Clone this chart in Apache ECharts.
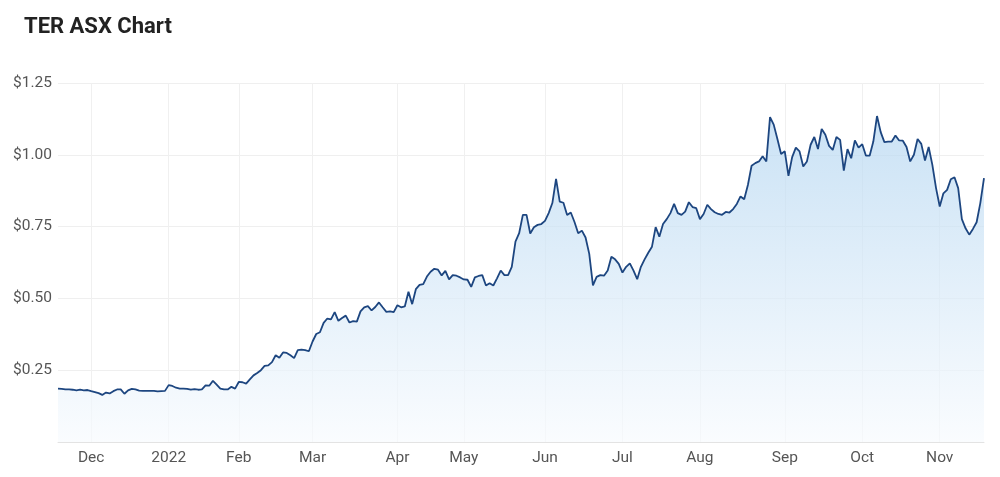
<!DOCTYPE html>
<html>
<head>
<meta charset="utf-8">
<script src="https://cdn.jsdelivr.net/npm/echarts@6/dist/echarts.min.js"></script>
<style>
  html, body { margin: 0; padding: 0; background: #ffffff; }
  #chart { width: 1000px; height: 477px; }
</style>
</head>
<body>
<div id="chart"></div>
<script>
// Trading-day range (ASX) and exchange holidays within it
const firstDay = '2021-11-18';
const lastDay = '2022-11-17';
const asxHolidays = ['2021-12-27', '2021-12-28', '2022-01-03', '2022-01-26',
  '2022-04-15', '2022-04-18', '2022-04-25', '2022-06-13', '2022-09-22'];

const monthNames = ['Jan', 'Feb', 'Mar', 'Apr', 'May', 'Jun', 'Jul', 'Aug', 'Sep', 'Oct', 'Nov', 'Dec'];

const yTicks = [0.25, 0.5, 0.75, 1.0, 1.25];

// Daily closing prices (A$), one per trading day
const closePrices = [
  0.186, 0.185, 0.183, 0.183, 0.182, 0.180, 0.182, 0.180, 0.181, 0.177,
  0.174, 0.170, 0.164, 0.172, 0.169, 0.177, 0.183, 0.183, 0.168, 0.180,
  0.185, 0.183, 0.179, 0.178, 0.178, 0.178, 0.178, 0.176, 0.177, 0.178,
  0.198, 0.195, 0.189, 0.186, 0.186, 0.185, 0.182, 0.184, 0.182, 0.183,
  0.197, 0.196, 0.213, 0.200, 0.186, 0.183, 0.183, 0.192, 0.186, 0.209,
  0.208, 0.203, 0.218, 0.232, 0.240, 0.250, 0.265, 0.267, 0.278, 0.302,
  0.293, 0.312, 0.310, 0.302, 0.292, 0.320, 0.322, 0.320, 0.316, 0.350,
  0.376, 0.382, 0.415, 0.430, 0.427, 0.452, 0.422, 0.432, 0.440, 0.416,
  0.421, 0.419, 0.455, 0.469, 0.473, 0.458, 0.470, 0.486, 0.469, 0.453,
  0.455, 0.452, 0.476, 0.469, 0.472, 0.523, 0.480, 0.532, 0.547, 0.550,
  0.576, 0.593, 0.603, 0.600, 0.580, 0.596, 0.566, 0.581, 0.579, 0.573,
  0.566, 0.565, 0.540, 0.573, 0.578, 0.581, 0.545, 0.553, 0.545, 0.570,
  0.597, 0.581, 0.581, 0.610, 0.698, 0.727, 0.791, 0.791, 0.726, 0.748,
  0.756, 0.759, 0.770, 0.797, 0.832, 0.916, 0.837, 0.833, 0.790, 0.799,
  0.766, 0.727, 0.736, 0.712, 0.655, 0.545, 0.575, 0.581, 0.579, 0.597,
  0.645, 0.636, 0.620, 0.590, 0.610, 0.622, 0.597, 0.567, 0.610, 0.636,
  0.659, 0.680, 0.748, 0.715, 0.759, 0.776, 0.797, 0.829, 0.797, 0.791,
  0.802, 0.835, 0.818, 0.814, 0.776, 0.794, 0.826, 0.811, 0.800, 0.794,
  0.791, 0.801, 0.799, 0.811, 0.829, 0.855, 0.845, 0.895, 0.962, 0.971,
  0.977, 0.995, 0.977, 1.131, 1.105, 1.055, 1.003, 1.012, 0.927, 0.992,
  1.025, 1.012, 0.959, 0.977, 1.035, 1.062, 1.020, 1.090, 1.070, 1.031,
  1.017, 1.062, 1.052, 0.945, 1.020, 0.988, 1.050, 1.025, 1.037, 0.997,
  0.997, 1.046, 1.135, 1.079, 1.044, 1.046, 1.046, 1.067, 1.050, 1.049,
  1.027, 0.977, 1.000, 1.055, 1.038, 0.980, 1.027, 0.965, 0.884, 0.820,
  0.866, 0.878, 0.915, 0.922, 0.884, 0.776, 0.744, 0.722, 0.742, 0.765,
  0.832, 0.919
];

// Build the trading-day categories
function buildTradingDays(from, to, holidays) {
  const out = [];
  const hol = new Set(holidays);
  const d = new Date(from + 'T00:00:00Z');
  const end = new Date(to + 'T00:00:00Z');
  while (d <= end) {
    const wd = d.getUTCDay();
    const iso = d.toISOString().slice(0, 10);
    if (wd !== 0 && wd !== 6 && !hol.has(iso)) out.push(iso);
    d.setUTCDate(d.getUTCDate() + 1);
  }
  return out;
}
const tradingDays = buildTradingDays(firstDay, lastDay, asxHolidays);

// First trading day of each month gets a label / grid line
const monthStart = {};
for (let i = 1; i < tradingDays.length; i++) {
  const m = tradingDays[i].slice(0, 7), pm = tradingDays[i - 1].slice(0, 7);
  if (m !== pm) {
    const mi = parseInt(tradingDays[i].slice(5, 7), 10) - 1;
    monthStart[i] = mi === 0 ? tradingDays[i].slice(0, 4) : monthNames[mi];
  }
}
const isMonthStart = (idx) => Object.prototype.hasOwnProperty.call(monthStart, idx);

const chart = echarts.init(document.getElementById('chart'), null, { renderer: 'canvas' });
chart.setOption({
  animation: false,
  backgroundColor: '#ffffff',
  title: {
    text: 'TER ASX Chart',
    left: 19,
    top: 11,
    textStyle: { fontFamily: 'Roboto', fontSize: 22, fontWeight: 'bold', color: '#222222' }
  },
  grid: { left: 58, right: 16, top: 83, bottom: 35, containLabel: false },
  xAxis: {
    type: 'category',
    data: tradingDays,
    boundaryGap: false,
    axisLine: { show: true, lineStyle: { color: '#e3e3e3', width: 1 } },
    axisTick: { show: false },
    axisLabel: {
      interval: (idx) => isMonthStart(idx),
      formatter: (val, idx) => monthStart[idx] || '',
      color: '#555555',
      fontFamily: 'Roboto',
      fontSize: 15.5,
      margin: 8
    },
    splitLine: {
      show: true,
      interval: (idx) => isMonthStart(idx),
      lineStyle: { color: '#f0f0f0', width: 1 }
    }
  },
  yAxis: {
    type: 'value',
    min: 0,
    max: yTicks[yTicks.length - 1],
    interval: 0.25,
    axisLine: { show: false },
    axisTick: { show: false },
    axisLabel: {
      formatter: (v) => (v === 0 ? '' : '$' + v.toFixed(2)),
      color: '#555555',
      fontFamily: 'Roboto',
      fontSize: 15.5,
      margin: 6
    },
    splitLine: { show: true, lineStyle: { color: '#efefef', width: 1 } }
  },
  series: [{
    type: 'line',
    data: closePrices,
    showSymbol: false,
    smooth: false,
    lineStyle: { color: '#1d4680', width: 1.8 },
    areaStyle: {
      color: new echarts.graphic.LinearGradient(0, 0, 0, 1, [
        { offset: 0, color: '#b4d6f1' },
        { offset: 1, color: '#f8fbfe' }
      ])
    }
  }]
});
</script>
</body>
</html>
